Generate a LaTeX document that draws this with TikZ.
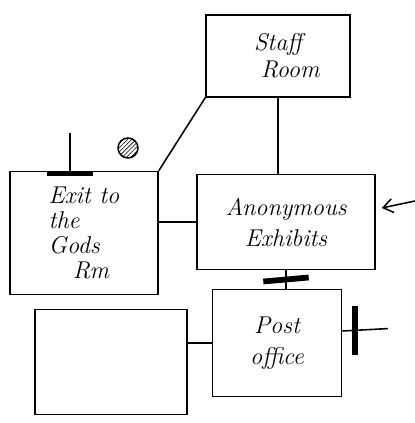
\documentclass[tikz,border=0pt]{standalone}
\usepackage{tikz}
\usetikzlibrary{arrows.meta,patterns}

\begin{document}
\begin{tikzpicture}[line width=1.1pt, >={Straight Barb[length=7pt,width=10pt]},
    room/.style={draw, font=\LARGE\itshape, align=center, inner sep=2pt},
    doorbar/.style={draw, fill=black, inner sep=0pt, minimum width=1.1cm, minimum height=3pt}]
    \useasboundingbox (0,0) rectangle (10.375,10.575);
    \node[room, minimum width=3.6cm, minimum height=2.05cm] (staff) at (6.95,9.175) {Staff\\[-3pt] \quad Room};
    \node[room, minimum width=3.7cm, minimum height=3.075cm, align=left] (exits) at (2.1,4.75) {Exit to\\[-4pt] the\\[-4pt] Gods\\[-4pt] \quad Rm};
    \node[room, minimum width=4.45cm, minimum height=2.375cm] (anon) at (7.15,5.025) {Anonymous\\ Exhibits};
    \node[room, minimum width=3.225cm, minimum height=2.675cm] (post) at (6.925,2.0) {Post\\ office};
    \node[room, minimum width=3.8cm, minimum height=2.625cm] (blank) at (2.775,1.525) {};
    \draw (staff.south) -- (staff.south |- anon.north);
    \draw (staff.south west) -- (exits.north east);
    \draw[pattern=north east lines] (3.2,6.875) circle (0.25);
    \draw (exits.east |- anon.west) -- (anon.west);
    \draw ([xshift=-0.35cm]exits.north) coordinate (exitdoor) -- ++(0,0.95);
    \node[doorbar] at ([yshift=-2pt]exitdoor) {};
    \coordinate (arrowtail) at (10.375,5.55);
    \draw[->] (arrowtail) -- ([xshift=0.15cm,yshift=0.35cm]anon.east);
    \draw (anon.south) -- node[doorbar, rotate=5] {} (anon.south |- post.north);
    \draw (blank.east |- post.west) -- (post.west);
    \coordinate (postexit) at (9.7,2.36);
    \draw ([yshift=0.3cm]post.east) -- node[doorbar, rotate=90, pos=0.28, minimum width=1.2cm] {} (postexit);
\end{tikzpicture}
\end{document}
